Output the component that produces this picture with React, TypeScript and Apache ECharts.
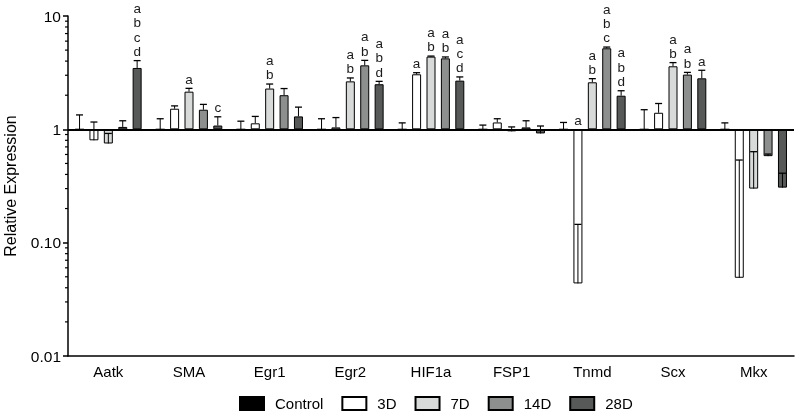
import React, { useEffect, useRef } from 'react';
import * as echarts from 'echarts';

const categories = ['Aatk', 'SMA', 'Egr1', 'Egr2', 'HIF1a', 'FSP1', 'Tnmd', 'Scx', 'Mkx'];
const seriesNames = ['Control', '3D', '7D', '14D', '28D'];

const controlMean = [1, 1, 1, 1, 1, 1, 1, 1, 1];
const controlUpper = [1.34, 1.24, 1.18, 1.24, 1.14, 1.09, 1.15, 1.49, 1.14];
const d3Mean = [0.8, 1.52, 1.13, 1.04, 3.06, 1.15, 0.0437, 1.4, 0.049];
const d3Upper = [1.16, 1.61, 1.3, 1.27, 3.16, 1.24, 0.145, 1.69, 0.536];
const d7Mean = [0.75, 2.15, 2.29, 2.65, 4.38, 0.96, 2.6, 3.6, 0.3];
const d7Upper = [0.92, 2.3, 2.51, 2.84, 4.43, 1.05, 2.8, 3.88, 0.635];
const d14Mean = [1.05, 1.49, 2.0, 3.67, 4.23, 1.04, 5.19, 3.04, 0.58];
const d14Upper = [1.19, 1.66, 2.29, 4.06, 4.35, 1.19, 5.32, 3.18, 0.605];
const d28Mean = [3.48, 1.08, 1.3, 2.5, 2.69, 0.92, 1.98, 2.82, 0.306];
const d28Upper = [4.04, 1.29, 1.57, 2.65, 2.9, 1.07, 2.19, 3.32, 0.41];

const controlLetters = ['', '', '', '', '', '', '', '', ''];
const d3Letters = ['', '', '', '', 'a', '', 'a', '', ''];
const d7Letters = ['', 'a', 'ab', 'ab', 'ab', '', 'ab', 'ab', ''];
const d14Letters = ['', '', '', 'ab', 'ab', '', 'abc', 'ab', ''];
const d28Letters = ['abcd', 'c', '', 'abd', 'acd', '', 'abd', 'a', ''];

const yTickLabels: Record<string, string> = { '-2': '0.01', '-1': '0.10', '0': '1', '1': '10' };
const minorTickValues = [
  0.02, 0.03, 0.04, 0.05, 0.06, 0.07, 0.08, 0.09,
  0.2, 0.3, 0.4, 0.5, 0.6, 0.7, 0.8, 0.9,
  2, 3, 4, 5, 6, 7, 8, 9,
];

const colors = ['#000000', '#ffffff', '#d8dad9', '#8d8f8e', '#575958'];
const FONT = '"Liberation Sans", Arial, Helvetica, sans-serif';
const BAR_WIDTH = 9;
const BAR_GAP = 0.6;
const BAR_STEP = BAR_WIDTH * (1 + BAR_GAP);

export default function App() {
  const ref = useRef<HTMLDivElement>(null);
  useEffect(() => {
    if (!ref.current) return;
    const chart = echarts.init(ref.current, undefined, { renderer: 'svg' });
    const means = [controlMean, d3Mean, d7Mean, d14Mean, d28Mean];
    const uppers = [controlUpper, d3Upper, d7Upper, d14Upper, d28Upper];
    const letters = [controlLetters, d3Letters, d7Letters, d14Letters, d28Letters];

    const errItems: any[] = [];
    const errLetters: string[] = [];
    for (let s = 0; s < seriesNames.length; s++) {
      for (let c = 0; c < categories.length; c++) {
        errItems.push([c, means[s][c], uppers[s][c], s]);
        errLetters.push(letters[s][c]);
      }
    }

    const barSeries = seriesNames.map((name, s) => ({
      name,
      type: 'bar',
      data: means[s],
      barWidth: BAR_WIDTH,
      barGap: `${BAR_GAP * 100}%`,
      itemStyle: { color: colors[s], borderColor: '#000', borderWidth: 1 },
      ...(s === 0
        ? {
            markLine: {
              silent: true,
              symbol: 'none',
              label: { show: false },
              lineStyle: { color: '#000', width: 2, type: 'solid' },
              data: [{ yAxis: 1 }],
            },
          }
        : {}),
    }));

    chart.setOption({
      animation: false,
      grid: { left: 68, right: 6, top: 16, bottom: 60, containLabel: false, outerBoundsMode: 'none' },
      legend: {
        data: seriesNames,
        left: 239,
        top: 396,
        padding: 0,
        icon: 'rect',
        itemWidth: 24,
        itemHeight: 13,
        itemGap: 18,
        textStyle: { fontSize: 15, color: '#000', fontFamily: FONT, padding: [0, 0, 0, 6] },
      },
      xAxis: {
        type: 'category',
        data: categories,
        axisLine: { onZero: false, lineStyle: { color: '#000', width: 1.5 } },
        axisTick: { alignWithLabel: true, length: 4, lineStyle: { color: '#000', width: 1.5 } },
        axisLabel: { fontSize: 15, color: '#000', fontFamily: FONT, margin: 8 },
      },
      yAxis: {
        type: 'log',
        logBase: 10,
        min: 0.01,
        max: 10,
        name: 'Relative Expression',
        nameLocation: 'middle',
        nameGap: 50,
        nameTextStyle: { fontSize: 16, color: '#000', fontFamily: FONT },
        axisLine: { show: true, lineStyle: { color: '#000', width: 1.5 } },
        axisTick: { show: true, length: 5, lineStyle: { color: '#000', width: 1.5 } },
        splitLine: { show: false },
        axisLabel: {
          fontSize: 15.5,
          color: '#000',
          fontFamily: FONT,
          margin: 7,
          formatter: (v: number) => yTickLabels[String(Math.round(Math.log10(v)))] ?? '',
        },
      },
      series: [
        ...barSeries,
        {
          type: 'custom',
          name: 'errors',
          clip: false,
          z: 5,
          encode: { x: 0, y: 1 },
          data: errItems,
          renderItem: (params: any, api: any) => {
            const c = api.value(0);
            const mean = api.value(1);
            const up = api.value(2);
            const s = api.value(3);
            const p0 = api.coord([c, mean]);
            const p1 = api.coord([c, up]);
            const pOne = api.coord([c, 1]);
            const x = p0[0] + (s - 2) * BAR_STEP;
            const children: any[] = [
              { type: 'line', shape: { x1: x, y1: p0[1], x2: x, y2: p1[1] }, style: { stroke: '#000', lineWidth: 1 } },
              { type: 'line', shape: { x1: x - 3.5, y1: p1[1], x2: x + 3.5, y2: p1[1] }, style: { stroke: '#000', lineWidth: 1.3 } },
            ];
            const lbl = errLetters[params.dataIndex];
            if (lbl) {
              children.push({
                type: 'text',
                x,
                y: Math.min(p1[1], pOne[1]) - 2,
                style: {
                  text: lbl.split('').join('\n'),
                  align: 'center',
                  verticalAlign: 'bottom',
                  fontSize: 13.5,
                  fontFamily: FONT,
                  lineHeight: 14.3,
                  fill: '#1a1a1a',
                },
              });
            }
            return { type: 'group', children };
          },
        },
        {
          type: 'custom',
          name: 'minorTicks',
          clip: false,
          encode: { x: 0, y: 1 },
          data: minorTickValues.map((v) => [0, v]),
          renderItem: (params: any, api: any) => {
            const p = api.coord([0, api.value(1)]);
            const x0 = params.coordSys.x;
            return {
              type: 'line',
              shape: { x1: x0 - 3, y1: p[1], x2: x0, y2: p[1] },
              style: { stroke: '#000', lineWidth: 1.2 },
            };
          },
        },
      ],
    });
    return () => chart.dispose();
  }, []);
  return <div ref={ref} style={{ position: 'fixed', left: 0, top: 0, width: 800, height: 416 }} />;
}
